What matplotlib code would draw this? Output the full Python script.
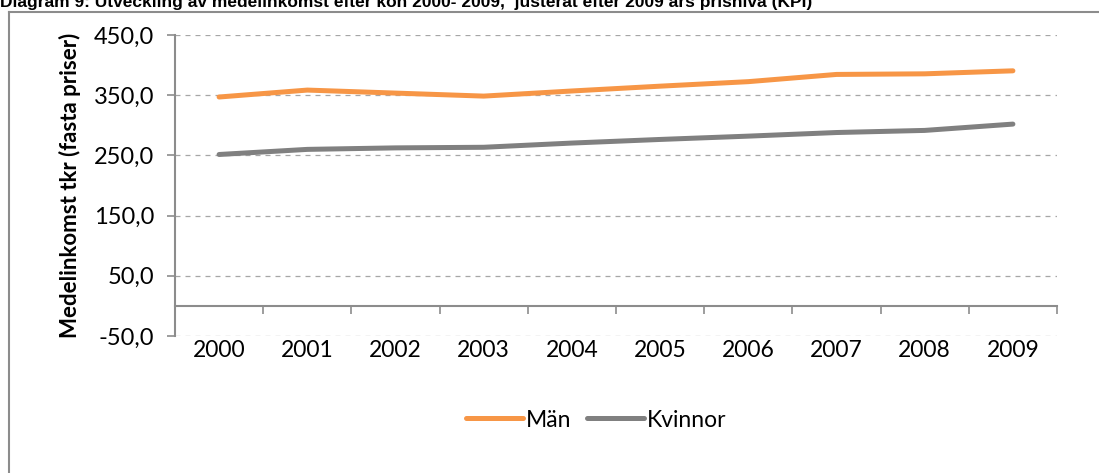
import matplotlib.pyplot as plt
from matplotlib.lines import Line2D
from matplotlib.ticker import FuncFormatter, FixedLocator

# data (tkr, fasta priser)
years = ['2000', '2001', '2002', '2003', '2004', '2005', '2006', '2007', '2008', '2009']
man = [347.0, 358.5, 353.5, 348.5, 357.0, 365.0, 372.5, 384.5, 385.5, 390.5]
kvinnor = [251.5, 260.0, 262.5, 263.5, 270.5, 276.5, 282.0, 288.0, 291.5, 302.0]
yticks = [-50, 50, 150, 250, 350, 450]

orange = '#F79646'
grey = '#808080'
axis_grey = '#8C8C8C'

W, H = 1099, 473
fig = plt.figure(figsize=(W / 100, H / 100), dpi=100)

# title, cut off at the top like in the original
fig.text(0.0, 1 - 7 / H, 'Diagram 9: Utveckling av medelinkomst efter kön 2000- 2009,  justerat efter 2009 års prisnivå (KPI)',
         family='Liberation Sans', weight='bold', fontsize=12.5, va='baseline', ha='left')

# outer frame (top and left only visible)
fig.add_artist(Line2D([8.5 / W, 1.0], [1 - 12 / H, 1 - 12 / H], transform=fig.transFigure, color=axis_grey, lw=1.5))
fig.add_artist(Line2D([8.5 / W, 8.5 / W], [0.0, 1 - 12 / H], transform=fig.transFigure, color=axis_grey, lw=1.5))

ax = fig.add_axes([175 / W, (H - 336) / H, 882 / W, 301 / H])
x = list(range(len(years)))
ax.plot(x, man, color=orange, lw=3.6, solid_capstyle='round', label='Män')
ax.plot(x, kvinnor, color=grey, lw=3.6, solid_capstyle='round', label='Kvinnor')

ax.set_xlim(-0.5, len(years) - 0.5)
ax.set_ylim(-50, 450)
ax.set_yticks(yticks)
ax.yaxis.set_major_formatter(FuncFormatter(lambda v, p: f'{v:.1f}'.replace('.', ',')))
ax.grid(axis='y', color='#A6A6A6', lw=0.9, ls=(0, (4, 4)))
ax.set_axisbelow(True)

for s in ['top', 'right']:
    ax.spines[s].set_visible(False)
ax.spines['left'].set_color(axis_grey)
ax.spines['left'].set_linewidth(1.5)
ax.spines['bottom'].set_position(('data', 0))
ax.spines['bottom'].set_color(axis_grey)
ax.spines['bottom'].set_linewidth(1.5)

ax.tick_params(axis='y', direction='out', length=6, width=1.2, color=axis_grey,
               labelsize=17, pad=9)
for lab in ax.get_yticklabels():
    lab.set_family('Lato')

# tick marks between categories on the zero line, no labels there
ax.xaxis.set_major_locator(FixedLocator([i - 0.5 for i in range(len(years) + 1)]))
ax.tick_params(axis='x', direction='out', length=6, width=1.2, color=axis_grey, labelbottom=False)

# year labels under the plot area
sec = ax.secondary_xaxis(0.0)
sec.set_xticks(x)
sec.set_xticklabels(years, family='Lato', fontsize=16.5)
sec.tick_params(length=0, pad=3)
sec.spines['bottom'].set_visible(False)

ax.set_ylabel('Medelinkomst tkr (fasta priser)', family='Lato', weight='bold', fontsize=16, labelpad=9)

fig.legend(handles=ax.get_lines(), labels=['Män', 'Kvinnor'], loc='center', bbox_to_anchor=(596 / W, 1 - 420 / H),
           ncol=2, frameon=False, prop={'family': 'Lato', 'size': 16.5}, handlelength=2.5,
           handletextpad=0.1, columnspacing=0.7)

fig.savefig('out.png', dpi=100)
